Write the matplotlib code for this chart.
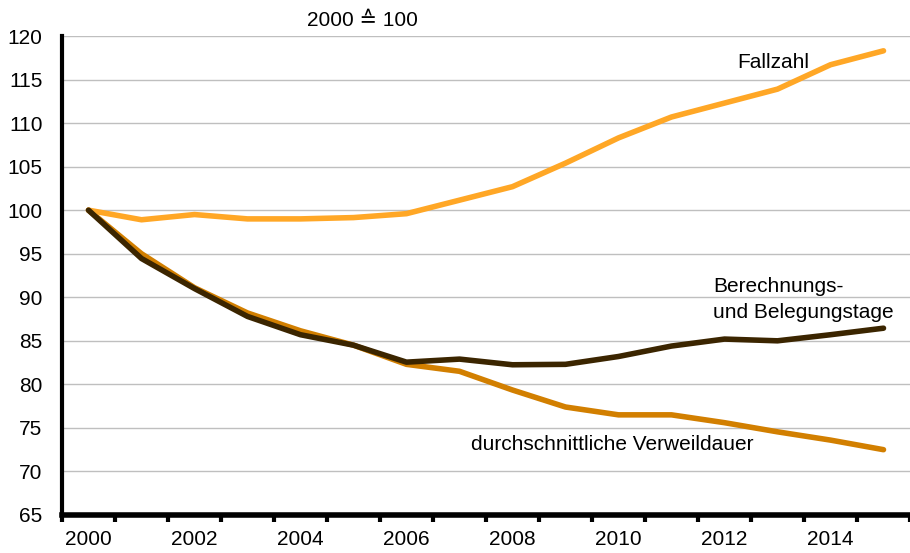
import matplotlib
matplotlib.use("Agg")
import matplotlib.pyplot as plt
import numpy as np

plt.rcParams['font.family'] = ['Liberation Sans', 'DejaVu Sans']

years = list(range(2000, 2016))
fallzahl = [100, 98.9, 99.5, 99.0, 99.0, 99.15, 99.6, 101.15, 102.7, 105.4, 108.3, 110.7, 112.3, 113.9, 116.7, 118.3]
berechnungstage = [100, 94.45, 91.0, 87.8, 85.7, 84.5, 82.55, 82.9, 82.25, 82.3, 83.2, 84.4, 85.2, 85.0, 85.7, 86.45]
verweildauer = [100, 95.0, 91.1, 88.2, 86.15, 84.5, 82.3, 81.5, 79.35, 77.4, 76.5, 76.5, 75.6, 74.55, 73.6, 72.5]
xlabels = [str(y) if (y % 2 == 0) else "" for y in years]

c_fall = "#FFA726"
c_verw = "#D27F00"
c_ber = "#3B2500"
fs = 15

fig = plt.figure(figsize=(9.10, 5.53), dpi=100)
ax = fig.add_axes([62/910, 38/553, 1 - 62/910, (515-36)/553])

x = np.arange(len(years))
ax.plot(x, verweildauer, color=c_verw, lw=4, solid_capstyle='round', zorder=3)
ax.plot(x, berechnungstage, color=c_ber, lw=4, solid_capstyle='round', zorder=4)
ax.plot(x, fallzahl, color=c_fall, lw=4, solid_capstyle='round', zorder=3)

ax.set_ylim(65, 120)
ax.set_yticks(np.arange(65, 121, 5))
ax.set_xlim(-0.5, -0.5 + (910 - 62) / 53.5)

ax.set_xticks(x)
ax.set_xticklabels(xlabels, fontsize=fs)
ax.tick_params(axis='x', which='major', length=0, pad=11)
ax.set_xticks(np.arange(-0.5, 16, 1), minor=True)
ax.tick_params(axis='x', which='minor', length=5, width=3, direction='out', color='black')
ax.tick_params(axis='y', length=0, pad=14, labelsize=fs)

ax.grid(axis='y', color='#BFBFBF', lw=1.0, zorder=0)
ax.set_axisbelow(True)
for s in ['top', 'right']:
    ax.spines[s].set_visible(False)
ax.spines['left'].set_linewidth(3)
ax.spines['bottom'].set_linewidth(4)

fig.text(307/910, 1 - 21/553, "2000 \u2259 100", fontsize=fs, ha='left', va='center')
fig.text(737/910, 1 - 62/553, "Fallzahl", fontsize=fs, ha='left', va='center')
fig.text(713/910, 1 - 286/553, "Berechnungs-", fontsize=fs, ha='left', va='center')
fig.text(713/910, 1 - 312/553, "und Belegungstage", fontsize=fs, ha='left', va='center')
fig.text(471/910, 1 - 445/553, "durchschnittliche Verweildauer", fontsize=fs, ha='left', va='center')

fig.savefig("out.png", dpi=100)
